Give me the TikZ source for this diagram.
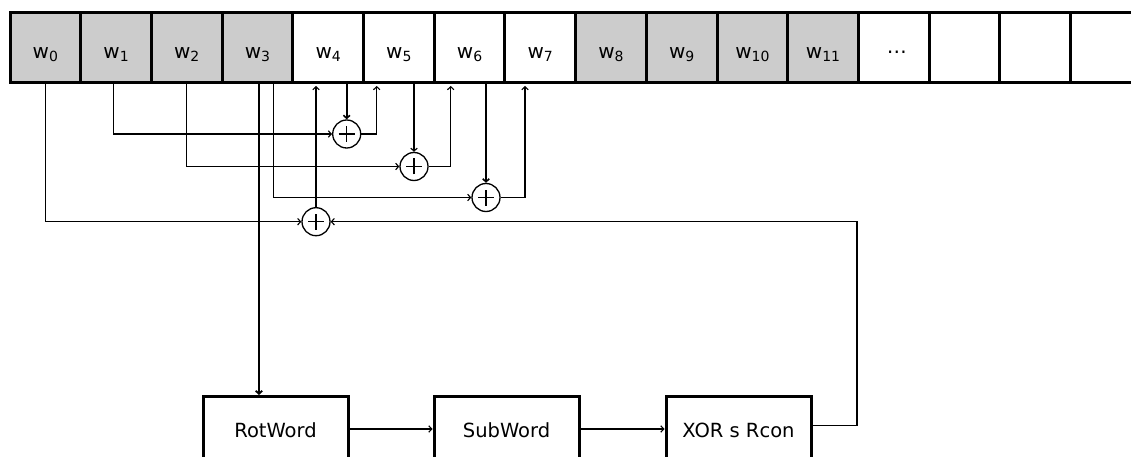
\documentclass[tikz,border=0pt]{standalone}
\usepackage{fontspec}
\setmainfont{DejaVu Sans}
\usetikzlibrary{arrows.meta,calc}
\definecolor{cellgray}{RGB}{204,204,204}
\newcommand{\wlab}[1]{w\raisebox{-3pt}{\fontsize{14}{14}\selectfont #1}}
\begin{document}
\begin{tikzpicture}[x=1pt,y=-1pt,
  cell/.style={draw=black, line width=3pt, minimum width=70.7pt, minimum height=70pt, inner sep=0pt,
    font=\fontsize{20}{24}\selectfont, text height=24pt, text depth=3pt},
  gcell/.style={cell, fill=cellgray},
  wcell/.style={cell, fill=white},
  fbox/.style={draw=black, line width=3pt, minimum width=145pt, minimum height=70pt, inner sep=0pt,
    font=\fontsize{19.5}{22}\selectfont, text height=15pt, text depth=4pt},
  xorc/.style={circle, draw=black, line width=1.3pt, minimum size=28pt, inner sep=0pt},
  conn/.style={line width=1.1pt},
  arr/.style={conn, -{Straight Barb[length=3pt,width=6.5pt]}},
]
\useasboundingbox (0,0) rectangle (1131,457);
\clip (0,0) rectangle (1131,457);
% top row of words
\node[gcell] (w0)  at (45.35,48)  {\wlab{0}};
\node[gcell] (w1)  at (116.05,48) {\wlab{1}};
\node[gcell] (w2)  at (186.75,48) {\wlab{2}};
\node[gcell] (w3)  at (257.45,48) {\wlab{3}};
\node[wcell] (w4)  at (328.15,48) {\wlab{4}};
\node[wcell] (w5)  at (398.85,48) {\wlab{5}};
\node[wcell] (w6)  at (469.55,48) {\wlab{6}};
\node[wcell] (w7)  at (540.25,48) {\wlab{7}};
\node[gcell] (w8)  at (610.95,48) {\wlab{8}};
\node[gcell] (w9)  at (681.65,48) {\wlab{9}};
\node[gcell] (w10) at (752.35,48) {\wlab{10}};
\node[gcell] (w11) at (823.05,48) {\wlab{11}};
\node[wcell] (dots) at (893.75,48) {\hspace{6pt}\char"22EF};
\node[wcell] (e1)  at (964.45,48) {};
\node[wcell] (e2)  at (1035.15,48) {};
\node[wcell] (e3)  at (1105.85,48) {};
% xor circles
\node[xorc] (c1) at (346.7,134) {};
\node[xorc] (c2) at (414,166.5) {};
\node[xorc] (c3) at (486,197.5) {};
\node[xorc] (c4) at (316,221.7) {};
\foreach \c in {c1,c2,c3,c4}
  \draw[line width=1.1pt] ([xshift=-8pt]\c.center) -- ([xshift=8pt]\c.center)
                          ([yshift=-8pt]\c.center) -- ([yshift=8pt]\c.center);
% function boxes
\node[fbox] (rot) at (275.5,431.5) {RotWord};
\node[fbox] (sub) at (506.5,431.5) {SubWord};
\node[fbox] (xor) at (738.5,431.5) {XOR s Rcon};
\coordinate (fb) at (857,221.7);
% connectors
\draw[arr] (w0.south) |- (c4);
\draw[arr] ([xshift=-2.3pt]w1.south) |- (c1);
\draw[arr] (w2.south) |- (c2);
\draw[arr] ([xshift=16pt]w3.south) |- (c3);
\draw[arr, line width=1.8pt] ([xshift=1.5pt]w3.south) -- ([xshift=1.5pt]w3.south |- rot.north);
\draw[arr, line width=1.6pt] (w4.south -| c1) -- (c1);
\draw[arr] (w5.south -| c2) -- (c2);
\draw[arr, line width=1.6pt] (w6.south -| c3) -- (c3);
\draw[arr, shorten >=1.5pt] (c4) -- (c4 |- w4.south);
\draw[arr, shorten >=1.5pt] (c1) -| ([xshift=-22.15pt]w5.south);
\draw[arr, shorten >=1.5pt] (c2) -| ([xshift=-18.85pt]w6.south);
\draw[arr, shorten >=1.5pt] (c3) -| ([xshift=-15.25pt]w7.south);
\draw[arr] ([yshift=2.5pt]rot.east) -- ([yshift=2.5pt]sub.west);
\draw[arr] ([yshift=2.5pt]sub.east) -- ([yshift=2.5pt]xor.west);
\draw[arr] ([yshift=6pt]xor.east) -| (fb) -- (c4);
\end{tikzpicture}
\end{document}
